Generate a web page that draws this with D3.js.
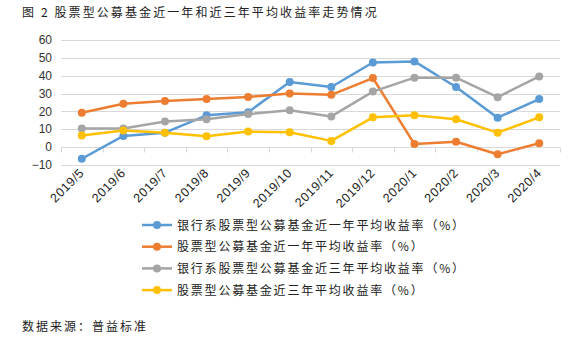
<!DOCTYPE html>
<html><head><meta charset="utf-8">
<script src="https://cdn.jsdelivr.net/npm/d3@7"></script>
<style>body{margin:0;background:#fff;}</style>
</head><body>
<script>
const categories = ["2019/5","2019/6","2019/7","2019/8","2019/9","2019/10","2019/11","2019/12","2020/1","2020/2","2020/3","2020/4"];
const bankOneYear = [-6.5, 6.3, 8.1, 17.8, 19.6, 36.5, 33.7, 47.4, 48.0, 33.7, 16.5, 26.9];
const stockOneYear = [19.3, 24.3, 25.9, 26.9, 28.1, 30.0, 29.3, 38.7, 1.7, 3.0, -4.0, 2.2];
const bankThreeYear = [10.4, 10.4, 14.4, 15.6, 18.5, 20.6, 17.2, 31.1, 38.9, 38.9, 28.0, 39.6];
const stockThreeYear = [6.5, 9.3, 8.1, 6.1, 8.7, 8.3, 3.5, 16.7, 17.8, 15.6, 8.1, 16.7];
const yTicks = [-10, 0, 10, 20, 30, 40, 50, 60];
const seriesNames = ["银行系股票型公募基金近一年平均收益率（%）","股票型公募基金近一年平均收益率（%）","银行系股票型公募基金近三年平均收益率（%）","股票型公募基金近三年平均收益率（%）"];
const title = "图 2 股票型公募基金近一年和近三年平均收益率走势情况";
const source = "数据来源：普益标准";

const series = [
  {name: seriesNames[0], values: bankOneYear, color: "#5B9BD5"},
  {name: seriesNames[1], values: stockOneYear, color: "#ED7D31"},
  {name: seriesNames[2], values: bankThreeYear, color: "#A5A5A5"},
  {name: seriesNames[3], values: stockThreeYear, color: "#FFC000"}
];

(function(){
const W = 588, H = 340;
const svg = d3.select("body").append("svg").attr("width", W).attr("height", H);
const cjk = "'Noto Sans CJK SC', sans-serif";
const latin = "'Liberation Sans', Arial, sans-serif";

const mLeft = 61, mRight = 560, mTop = 40, mBottom = 165;
const x = d3.scaleBand().domain(categories).range([mLeft, mRight]);
const y = d3.scaleLinear().domain([-10, 60]).range([mBottom, mTop]);

svg.append("text").attr("x", 22).attr("y", 17).text(title)
  .attr("font-family", cjk).attr("font-size", 12).attr("letter-spacing", 2.1).attr("fill", "#222");

svg.append("g").selectAll("line").data(yTicks).join("line")
  .attr("x1", mLeft).attr("x2", mRight)
  .attr("y1", d => Math.round(y(d)) + 0.5).attr("y2", d => Math.round(y(d)) + 0.5)
  .attr("stroke", "#D9D9D9").attr("stroke-width", 1);

svg.append("g").selectAll("text").data(yTicks).join("text")
  .attr("x", 52).attr("y", d => y(d)).attr("dy", "0.35em")
  .attr("text-anchor", "end").text(d => d < 0 ? "−" + Math.abs(d) : d)
  .attr("font-family", latin).attr("font-size", 12).attr("fill", "#333");

const y0 = Math.round(y(0)) + 0.5;
const bounds = categories.map(c => x(c)).concat([mRight]);
svg.append("g").selectAll("line").data(bounds).join("line")
  .attr("x1", d => Math.round(d) + 0.5).attr("x2", d => Math.round(d) + 0.5)
  .attr("y1", y0).attr("y2", y0 + 5).attr("stroke", "#D9D9D9");

svg.append("g").selectAll("text").data(categories).join("text")
  .attr("transform", d => `translate(${x(d) + x.bandwidth()/2},${y0 + 23}) rotate(-45)`)
  .attr("text-anchor", "end").attr("dy", "0.35em").text(d => d)
  .attr("font-family", latin).attr("font-size", 12.5).attr("letter-spacing", 0.6).attr("fill", "#222");

const line = d3.line().x((d, i) => x(categories[i]) + x.bandwidth()/2).y(d => y(d));
series.forEach(s => {
  svg.append("path").attr("d", line(s.values)).attr("fill", "none")
    .attr("stroke", s.color).attr("stroke-width", 2.5).attr("stroke-linejoin", "round");
  svg.append("g").selectAll("circle").data(s.values).join("circle")
    .attr("cx", (d, i) => x(categories[i]) + x.bandwidth()/2).attr("cy", d => y(d))
    .attr("r", 4).attr("fill", s.color);
});

const lg = svg.append("g");
series.forEach((s, i) => {
  const ly = 225 + i * 21.7;
  lg.append("line").attr("x1", 142).attr("x2", 172).attr("y1", ly).attr("y2", ly)
    .attr("stroke", s.color).attr("stroke-width", 2.5);
  lg.append("circle").attr("cx", 157).attr("cy", ly).attr("r", 4).attr("fill", s.color);
  lg.append("text").attr("x", 177).attr("y", ly).attr("dy", "0.38em").text(s.name)
    .attr("font-family", cjk).attr("font-size", 12).attr("letter-spacing", 1.8).attr("fill", "#222");
});

svg.append("text").attr("x", 22).attr("y", 331).text(source)
  .attr("font-family", cjk).attr("font-size", 12).attr("letter-spacing", 2).attr("fill", "#222");
})();
</script>
</body></html>
